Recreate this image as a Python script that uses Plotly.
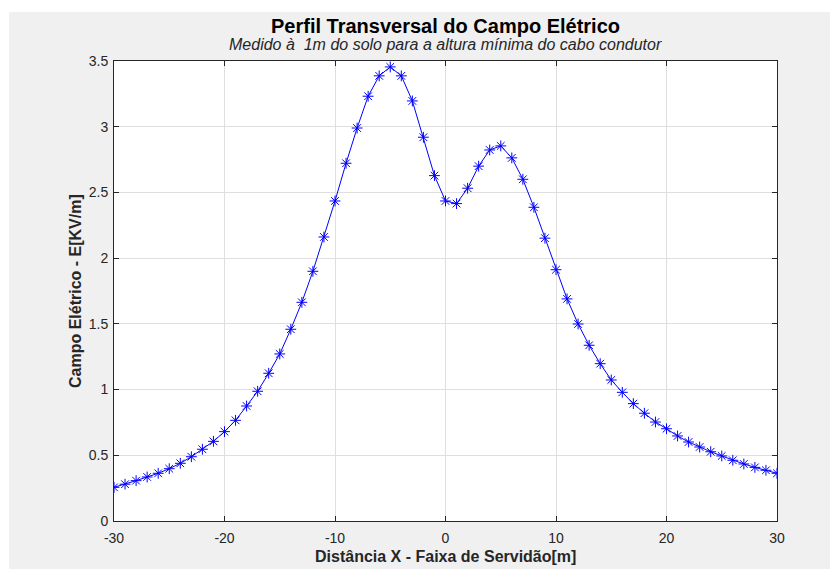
import plotly.graph_objects as go

# Data
distance_m = list(range(-30, 31))
field_kv_m = [
    0.256, 0.280, 0.307, 0.335, 0.363, 0.398, 0.439, 0.489, 0.546, 0.606,   # -30..-21
    0.680, 0.766, 0.875, 0.987, 1.124, 1.271, 1.459, 1.664, 1.900, 2.161,   # -20..-11
    2.435, 2.722, 2.990, 3.232, 3.387, 3.455, 3.387, 3.196, 2.920, 2.628,   # -10..-1
    2.435, 2.415, 2.532, 2.700, 2.823, 2.854, 2.763, 2.600, 2.387, 2.152,   # 0..9
    1.912, 1.690, 1.499, 1.337, 1.197, 1.073, 0.979, 0.893, 0.820, 0.753,   # 10..19
    0.702, 0.647, 0.601, 0.563, 0.527, 0.495, 0.462, 0.434, 0.408, 0.386,   # 20..29
    0.363,                                                                  # 30
]
x_ticks = [-30, -20, -10, 0, 10, 20, 30]
x_tick_labels = ["-30", "-20", "-10", "0", "10", "20", "30"]
y_ticks = [0, 0.5, 1, 1.5, 2, 2.5, 3, 3.5]
y_tick_labels = ["0", "0.5", "1", "1.5", "2", "2.5", "3", "3.5"]

title_text = "<b>Perfil Transversal do Campo Elétrico</b>"
subtitle_text = "<i>Medido à&nbsp; 1m do solo para a altura mínima do cabo condutor</i>"
x_label = "<b>Distância X - Faixa de Servidão[m]</b>"
y_label = "<b>Campo Elétrico - E[KV/m]</b>"

FONT = "Liberation Sans, Arial, Helvetica, sans-serif"
AXC = "#262626"
GRID = "#dfdfdf"
FIGBG = "#f0f0f0"

fig = go.Figure()
fig.add_trace(go.Scatter(
    x=distance_m, y=field_kv_m,
    mode="lines+markers",
    line=dict(color="#0000ff", width=1),
    marker=dict(symbol="asterisk-open", size=9, color="#0000ff",
                line=dict(color="#0000ff", width=1)),
    showlegend=False,
))

axis_common = dict(
    showline=True, linecolor=AXC, linewidth=1, mirror="ticks",
    ticks="inside", ticklen=5, tickcolor=AXC, tickwidth=1,
    showgrid=True, gridcolor=GRID, gridwidth=1, zeroline=False,
    tickfont=dict(family=FONT, size=14, color=AXC),
)

fig.update_xaxes(range=[-30, 30], tickvals=x_ticks, ticktext=x_tick_labels,
                 ticklabelstandoff=4, **axis_common)
fig.update_yaxes(range=[0, 3.5], tickvals=y_ticks, ticktext=y_tick_labels,
                 ticklabelstandoff=2, **axis_common)

fig.update_layout(
    width=830, height=569,
    margin=dict(l=114, r=53, t=61, b=48),
    paper_bgcolor=FIGBG, plot_bgcolor="white",
    font=dict(family=FONT, color=AXC),
    shapes=[
        # white strips at the top and left edges of the picture
        dict(type="rect", xref="paper", yref="paper", x0=-0.2, x1=1.2,
             y0=(521 - 12) / 460, y1=1.2, fillcolor="white", line_width=0, layer="below"),
        dict(type="rect", xref="paper", yref="paper", x0=-0.2, x1=(9 - 114) / 663,
             y0=-0.2, y1=1.2, fillcolor="white", line_width=0, layer="below"),
    ],
    annotations=[
        dict(text=title_text, xref="paper", yref="paper", x=0.5, y=1.0761,
             xanchor="center", yanchor="middle", showarrow=False,
             font=dict(family=FONT, size=20, color="black")),
        dict(text=subtitle_text, xref="paper", yref="paper", x=0.5, y=1.0348,
             xanchor="center", yanchor="middle", showarrow=False,
             font=dict(family=FONT, size=16, color=AXC)),
        dict(text=x_label, xref="paper", yref="paper", x=0.5, y=-0.078,
             xanchor="center", yanchor="middle", showarrow=False,
             font=dict(family=FONT, size=16, color=AXC)),
        dict(text=y_label, xref="paper", yref="paper", x=-0.0588, y=0.5,
             xanchor="center", yanchor="middle", showarrow=False, textangle=-90,
             font=dict(family=FONT, size=16, color=AXC)),
    ],
)

fig.write_html("out.html", config={"displayModeBar": False},
               post_script="document.body.style.margin='0';")
